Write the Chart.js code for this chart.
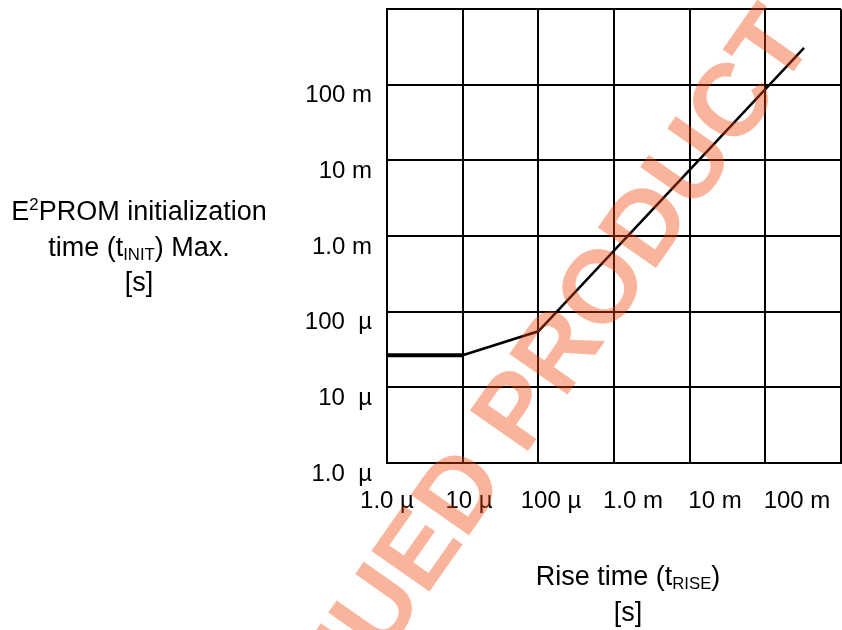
<!DOCTYPE html>
<html>
<head>
<meta charset="utf-8">
<script src="https://cdn.jsdelivr.net/npm/chart.js@4"></script>
<style>
  body { margin: 0; background: #fff; }
  #wrap { position: relative; width: 842px; height: 630px; }
  canvas { position: absolute; left: 0; top: 0; }
  .title { position: absolute; font-family: "Liberation Sans", Arial, sans-serif; font-size: 27px; line-height: 35.5px; text-align: center; color: #000; white-space: nowrap; }
  .title sup, .title sub { font-size: 0.62em; line-height: 0; }
  .title sub { vertical-align: -0.25em; }
</style>
</head>
<body>
<div id="wrap">
  <canvas id="chart" width="842" height="630"></canvas>
  <div class="title" style="left:0; width:278px; top:194px;">E<sup>2</sup>PROM initialization<br>time (t<sub>INIT</sub>) Max.<br>[s]</div>
  <div class="title" style="left:480px; width:296px; top:559px;">Rise time (t<sub>RISE</sub>)<br>[s]</div>
</div>
<script>
// decade ticks on both log axes
const decades = [1e-6, 1e-5, 1e-4, 1e-3, 1e-2, 1e-1, 1];
const xTickLabels = ["1.0 µ", "10 µ", "100 µ", "1.0 m", "10 m", "100 m", ""];
const yTickLabels = ["1.0  µ", "10  µ", "100  µ", "1.0 m", "10 m", "100 m", ""];

// rise time vs max init time
const riseTime = [1e-6, 1e-5, 1e-4, 0.325];
const initTime = [2.65e-5, 2.65e-5, 5.5e-5, 0.306];

// x labels in the original sit a bit wider apart than the grid
const xLabelSpanDecades = 454 / 82;

function labelFor(list, v) {
    let i = decades.findIndex(d => Math.abs(Math.log10(d) - Math.log10(v)) < 1e-6);
    return i >= 0 ? list[i] : "";
}

const tickFont = { family: "'Liberation Sans', Arial, sans-serif", size: 24 };

const watermark = {
    id: "watermark",
    afterDraw(chart) {
        const ctx = chart.ctx;
        const size = 103;
        ctx.save();
        ctx.font = "bold " + size + "px 'Liberation Sans', Arial, sans-serif";
        ctx.fillStyle = "rgba(242,67,5,0.4)";
        let pre = ctx.measureText("DISCONTINU").width;
        let eW = ctx.measureText("E").width;
        ctx.translate(415, 548);
        ctx.rotate(-55 * Math.PI / 180);
        ctx.textBaseline = "alphabetic";
        ctx.fillText("DISCONTINUED PRODUCT", -(pre + eW / 2), 0.358 * size);
        ctx.restore();
    }
};

new Chart(document.getElementById("chart"), {
    type: "line",
    data: {
        datasets: [{
            data: riseTime.map((x, i) => ({ x: x, y: initTime[i] })),
            borderColor: "#000",
            borderWidth: 2.5,
            pointRadius: 0,
            fill: false,
            tension: 0,
            segment: {
                borderWidth: c => c.p0DataIndex === 0 ? 4 : 2.5
            }
        }]
    },
    options: {
        responsive: false,
        animation: false,
        devicePixelRatio: 1,
        layout: { padding: { top: 9, right: 1, left: 0, bottom: 0 } },
        plugins: { legend: { display: false }, tooltip: { enabled: false } },
        scales: {
            x: {
                type: "logarithmic",
                min: 1e-6,
                max: 1,
                afterBuildTicks: s => { s.ticks = decades.map(v => ({ value: v })); },
                afterFit: s => { s.height = 0; s.paddingLeft = 0; s.paddingRight = 0; },
                grid: { color: "#000", lineWidth: 2, drawTicks: false },
                border: { color: "#000", width: 2 },
                ticks: { display: false }
            },
            xLabels: {
                type: "logarithmic",
                position: "bottom",
                min: 1e-6,
                max: Math.pow(10, -6 + xLabelSpanDecades),
                afterBuildTicks: s => { s.ticks = decades.filter(v => v <= s.max).map(v => ({ value: v })); },
                afterFit: s => { s.height = 167; s.paddingLeft = 0; s.paddingRight = 0; },
                grid: { display: false, drawTicks: false },
                border: { display: false },
                ticks: {
                    autoSkip: false,
                    maxRotation: 0,
                    padding: 24,
                    color: "#000",
                    font: tickFont,
                    callback: v => labelFor(xTickLabels, v)
                }
            },
            y: {
                type: "logarithmic",
                min: 1e-6,
                max: 1,
                afterBuildTicks: s => { s.ticks = decades.map(v => ({ value: v })); },
                afterFit: s => { s.width = 387; s.paddingTop = 0; s.paddingBottom = 0; },
                grid: { color: "#000", lineWidth: 2, drawTicks: false },
                border: { color: "#000", width: 2 },
                ticks: {
                    autoSkip: false,
                    padding: 15,
                    labelOffset: 11,
                    color: "#000",
                    font: tickFont,
                    callback: v => labelFor(yTickLabels, v)
                }
            }
        }
    },
    plugins: [watermark]
});
</script>
</body>
</html>
